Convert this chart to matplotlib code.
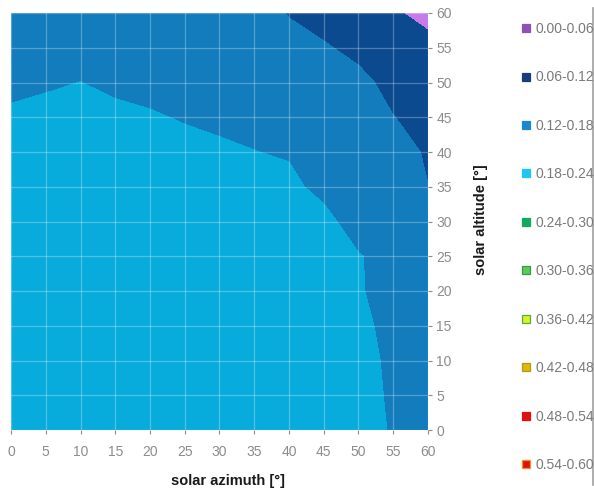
import numpy as np
import matplotlib.pyplot as plt
from matplotlib.lines import Line2D

plt.rcParams['font.family'] = ['Liberation Sans', 'DejaVu Sans']

# grid of the surface (degrees)
azimuth = [0, 5, 10, 15, 20, 25, 30, 35, 40, 45, 50, 55, 60]
altitude = [0, 5, 10, 15, 20, 25, 30, 35, 40, 45, 50, 55, 60]

# ratio values, one row per altitude (0 -> 60), columns azimuth 0 -> 60
ratio = [
    [0.210, 0.210, 0.210, 0.210, 0.210, 0.210, 0.210, 0.210, 0.210, 0.210, 0.220, 0.171, 0.160],
    [0.210, 0.210, 0.210, 0.210, 0.210, 0.210, 0.210, 0.210, 0.210, 0.210, 0.215, 0.166, 0.155],
    [0.210, 0.210, 0.210, 0.210, 0.210, 0.210, 0.210, 0.210, 0.210, 0.210, 0.210, 0.162, 0.155],
    [0.210, 0.210, 0.210, 0.210, 0.210, 0.210, 0.210, 0.210, 0.210, 0.210, 0.200, 0.155, 0.150],
    [0.210, 0.210, 0.210, 0.210, 0.210, 0.210, 0.210, 0.210, 0.210, 0.210, 0.188, 0.144, 0.150],
    [0.210, 0.210, 0.210, 0.210, 0.210, 0.210, 0.210, 0.210, 0.210, 0.210, 0.185, 0.150, 0.150],
    [0.210, 0.210, 0.210, 0.210, 0.210, 0.210, 0.210, 0.210, 0.210, 0.206, 0.138, 0.150, 0.140],
    [0.210, 0.210, 0.210, 0.210, 0.210, 0.210, 0.210, 0.210, 0.200, 0.155, 0.150, 0.150, 0.121],
    [0.210, 0.210, 0.210, 0.210, 0.210, 0.212, 0.210, 0.1815, 0.172, 0.150, 0.150, 0.150, 0.1115],
    [0.210, 0.210, 0.210, 0.210, 0.190, 0.172, 0.142, 0.1565, 0.150, 0.150, 0.150, 0.122, 0.089],
    [0.135, 0.167, 0.181, 0.154, 0.148, 0.150, 0.150, 0.150, 0.150, 0.150, 0.146, 0.090, 0.085],
    [0.140, 0.150, 0.155, 0.150, 0.150, 0.150, 0.150, 0.150, 0.150, 0.130, 0.094, 0.080, 0.080],
    [0.140, 0.150, 0.150, 0.150, 0.150, 0.150, 0.150, 0.157, 0.115, 0.080, 0.075, 0.068, 0.040],
]

band_edges = [0.00, 0.06, 0.12, 0.18, 0.24, 0.30, 0.36, 0.42, 0.48, 0.54, 0.60]
band_labels = ['0.00-0.06', '0.06-0.12', '0.12-0.18', '0.18-0.24', '0.24-0.30',
               '0.30-0.36', '0.36-0.42', '0.42-0.48', '0.48-0.54', '0.54-0.60']
# colours as they show on the surface
fill_colors = ['#c87ae6', '#0c4a90', '#137cbc', '#08acdc', '#12a862',
               '#66cc66', '#ddee22', '#ddbb00', '#dd1111', '#dd1111']
# colours of the legend keys
key_colors = ['#8e52b4', '#1a3c7a', '#1a88cc', '#1ec6f0', '#12a862',
              '#5ec865', '#e0f020', '#e0b800', '#e01010', '#e01010']
key_edges = ['#8e52b4', '#1a3c7a', '#1a88cc', '#1ec6f0', '#12a862',
             '#3a9a40', '#50b040', '#b09a20', '#e01010', '#f09020']

grey = '#8c8c8c'

fig = plt.figure(figsize=(5.94, 4.93), dpi=100)
ax = fig.add_axes([11 / 594, 63 / 493, 417 / 594, 417 / 493])

ax.contourf(azimuth, altitude, np.array(ratio), levels=band_edges, colors=fill_colors)

ax.set_xlim(0, 60)
ax.set_ylim(0, 60)
ax.set_xticks(azimuth)
ax.set_yticks(altitude)
ax.grid(True, color='white', alpha=0.28, linewidth=0.9)
for s in ax.spines.values():
    s.set_visible(False)

ax.yaxis.tick_right()
ax.tick_params(axis='both', colors=grey, labelcolor=grey, labelsize=10, length=3, width=0.8)
ax.tick_params(axis='x', pad=8)
ax.tick_params(axis='y', pad=3)

ax.set_xlabel('solar azimuth [°]', fontsize=10.5, fontweight='bold', color='#1a1a1a')
ax.xaxis.set_label_coords(0.52, -0.105)
ax.yaxis.set_label_position('right')
ax.set_ylabel('solar altitude [°]', fontsize=10.5, fontweight='bold', color='#1a1a1a')
ax.yaxis.set_label_coords(1.11, 0.505)

# legend
handles = [Line2D([], [], linestyle='none', marker='s', markersize=5.5,
                  markerfacecolor=c, markeredgecolor=e, markeredgewidth=0.9)
           for c, e in zip(key_colors, key_edges)]
fig.legend(handles, band_labels, loc='upper left', bbox_to_anchor=(520 / 594, 1 - 22 / 493),
           frameon=False, fontsize=10, labelcolor='#7a7a7a', handlelength=0.8,
           handletextpad=0.3, labelspacing=2.48, borderaxespad=0, borderpad=0)

# thin frame line at right edge
fig.add_artist(Line2D([593 / 594, 593 / 594], [1 - 8 / 493, 1 - 485 / 493],
                      color='#a0a0a0', linewidth=1.2))

fig.savefig('out.png', dpi=100)
